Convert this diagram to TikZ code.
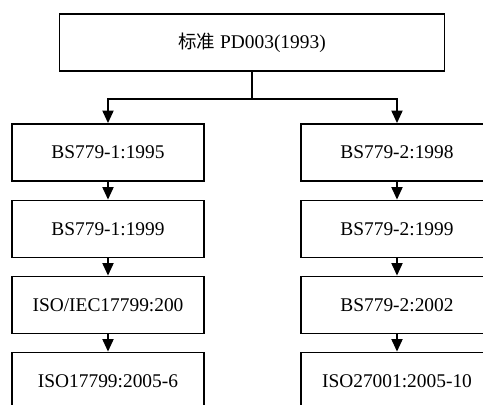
\documentclass[tikz,border=0pt]{standalone}
\usepackage{fontspec}
\setmainfont{Liberation Serif}
\newfontfamily\cjkfont{Noto Sans CJK SC}
\usetikzlibrary{arrows.meta}
\begin{document}
\begin{tikzpicture}[x=1pt,y=-1pt,
  stdbox/.style={draw, line width=1.8pt, minimum width=192pt, minimum height=57pt,
    inner sep=0pt, font=\fontsize{19.4}{22}\selectfont},
  link/.style={line width=1.8pt, -{Triangle[length=12.5pt,width=11pt]}}]
  \useasboundingbox (0,0) rectangle (483,405);
  % root standard
  \node[stdbox, minimum width=385pt] (root) at (252,42.5)
    {{\cjkfont\fontsize{18.5}{22}\selectfont 标准} PD003(1993)};
  % part 1 line
  \node[stdbox] (l1) at (108,152.5) {BS779-1:1995};
  \node[stdbox] (l2) at (108,229) {BS779-1:1999};
  \node[stdbox] (l3) at (108,305) {ISO/IEC17799:200};
  \node[stdbox] (l4) at (108,381) {ISO17799:2005-6};
  % part 2 line
  \node[stdbox] (r1) at (397,152.5) {BS779-2:1998};
  \node[stdbox] (r2) at (397,229) {BS779-2:1999};
  \node[stdbox] (r3) at (397,305) {BS779-2:2002};
  \node[stdbox] (r4) at (397,381) {ISO27001:2005-10};
  % branching from the root
  \draw[line width=1.8pt] (root.south) -- ++(0,27) coordinate (fork);
  \draw[link] (fork) -| (l1.north);
  \draw[link] (fork) -| (r1.north);
  % succession arrows
  \draw[link] (l1) -- (l2);
  \draw[link] (l2) -- (l3);
  \draw[link] (l3) -- (l4);
  \draw[link] (r1) -- (r2);
  \draw[link] (r2) -- (r3);
  \draw[link] (r3) -- (r4);
\end{tikzpicture}
\end{document}
